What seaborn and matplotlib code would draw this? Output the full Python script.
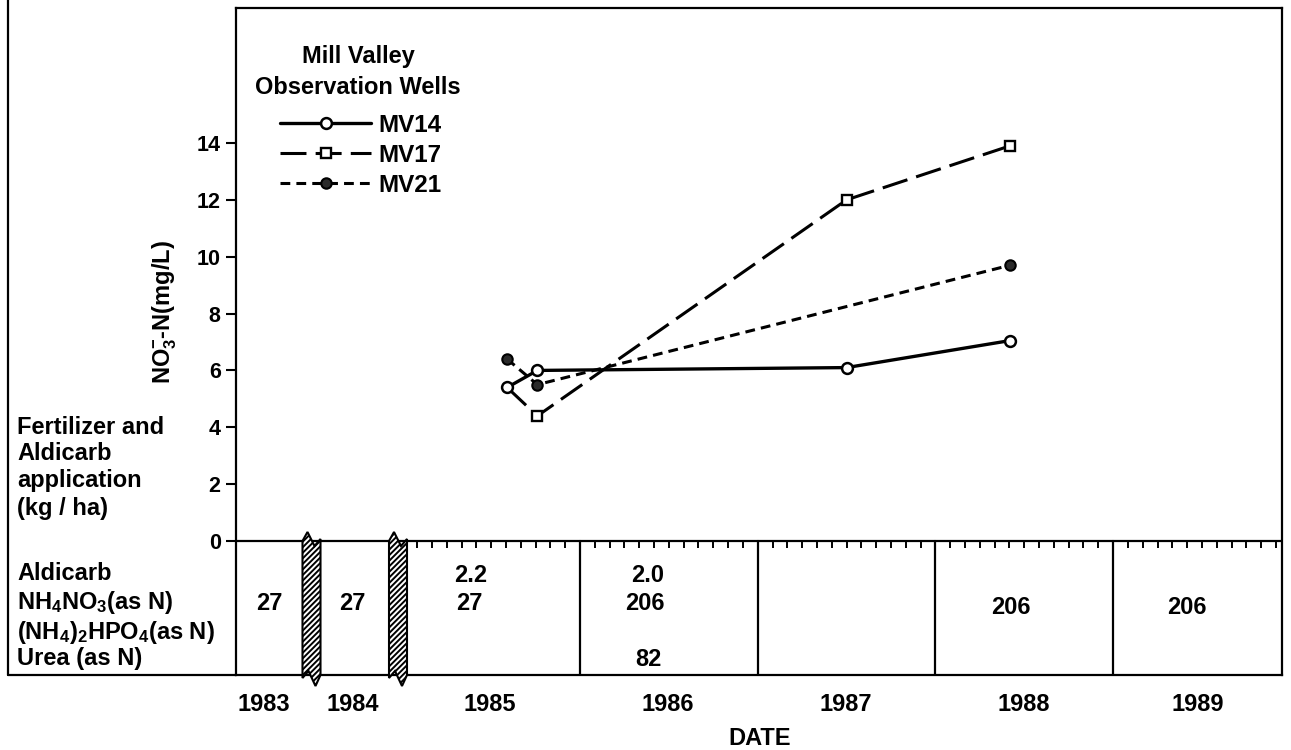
import numpy as np
import pandas as pd
import matplotlib
matplotlib.use("Agg")
import matplotlib.pyplot as plt
from matplotlib.patches import Polygon
from matplotlib.lines import Line2D
import seaborn as sns

# ---------------- data ----------------
wells = ["MV14", "MV17", "MV21"]
mv14_dates = [1985.59, 1985.76, 1987.50, 1988.42]
mv14_no3 = [5.4, 6.0, 6.1, 7.05]
mv17_dates = [1985.59, 1985.76, 1987.50, 1988.42]
mv17_no3 = [5.4, 4.4, 12.0, 13.9]
mv21_dates = [1985.59, 1985.76, 1988.42]
mv21_no3 = [6.4, 5.5, 9.7]

year_labels = ["1983", "1984", "1985", "1986", "1987", "1988", "1989"]
row_labels = ["Aldicarb", r"NH$_4$NO$_3$(as N)", r"(NH$_4$)$_2$HPO$_4$(as N)", "Urea (as N)"]
app_years = ["1983", "1984", "1985", "1985", "1986", "1986", "1986", "1988", "1989"]
app_rows = [1, 1, 0, 1, 0, 1, 3, 1, 1]
app_text = ["27", "27", "2.2", "27", "2.0", "206", "82", "206", "206"]

yticks = [0, 2, 4, 6, 8, 10, 12, 14]

# ---------------- style ----------------
sns.set_style("white")
FONT = ["Liberation Sans", "DejaVu Sans"]
plt.rcParams["font.family"] = FONT
plt.rcParams["font.weight"] = "bold"
plt.rcParams["axes.labelweight"] = "bold"
for k in ["text.color", "axes.labelcolor", "xtick.color", "ytick.color", "axes.edgecolor"]:
    plt.rcParams[k] = "black"
plt.rcParams["mathtext.fontset"] = "custom"
plt.rcParams["mathtext.rm"] = "Liberation Sans:bold"
plt.rcParams["mathtext.it"] = "Liberation Sans:bold:italic"
plt.rcParams["mathtext.bf"] = "Liberation Sans:bold"
plt.rcParams["hatch.linewidth"] = 1.4
FS = 17
TFS = 15.5

W, H = 1291, 750
fig = plt.figure(figsize=(W / 100, H / 100), dpi=100)
fig.patch.set_facecolor("white")

PX_LEFT, PX_RIGHT, PX_TOP, PX_BOT = 236, 1282, 8, 675
PX_Y0 = 541
PX_PER_UNIT = (541 - 143) / 14.0
PX_PER_YEAR = 177.7
PX_1986 = 580

def xd(px):
    return 1986 + (px - PX_1986) / PX_PER_YEAR

def yd(py):
    return (PX_Y0 - py) / PX_PER_UNIT

ax = fig.add_axes([PX_LEFT / W, 1 - PX_BOT / H, (PX_RIGHT - PX_LEFT) / W, (PX_BOT - PX_TOP) / H])
ax.set_xlim(xd(PX_LEFT), xd(PX_RIGHT))
ax.set_ylim(yd(PX_BOT), yd(PX_TOP))

for sp in ax.spines.values():
    sp.set_visible(True)
    sp.set_linewidth(1.6)
    sp.set_color("black")

# ---------------- series ----------------
sns.lineplot(x=mv17_dates, y=mv17_no3, ax=ax, color="black", lw=2.2,
             linestyle=(0, (8.5, 3.0)), marker="s", ms=7, mfc="white",
             mec="black", mew=1.7, label="MV17", zorder=3, markevery=[1, 2, 3])
sns.lineplot(x=mv21_dates, y=mv21_no3, ax=ax, color="black", lw=2.2,
             linestyle=(0, (3.2, 2.0)), marker="o", ms=7.5, mfc="#2a2a2a",
             mec="black", mew=1.5, label="MV21", zorder=4)
sns.lineplot(x=mv14_dates, y=mv14_no3, ax=ax, color="black", lw=2.4,
             linestyle="-", marker="o", ms=7.8, mfc="white",
             mec="black", mew=1.8, label="MV14", zorder=5)

ax.set_yticks(yticks)
ax.set_yticklabels([str(t) for t in yticks], fontsize=TFS)
ax.tick_params(axis="y", direction="out", length=7, width=1.5, pad=4, left=True)
ax.set_ylabel(r"NO$_3^{-}$-N(mg/L)", fontsize=FS, fontweight="bold")
ax.yaxis.set_label_coords((179 - PX_LEFT) / (PX_RIGHT - PX_LEFT), (PX_BOT - 312) / (PX_BOT - PX_TOP))

year_px = [264, 353, 490, 668, 846, 1024, 1198]
ax.set_xticks([xd(p) for p in year_px])
ax.set_xticklabels(year_labels, fontsize=FS)
ax.tick_params(axis="x", length=0, pad=13, bottom=True)
ax.set_xlabel("DATE", fontsize=FS, fontweight="bold")
ax.xaxis.set_label_coords((760 - PX_LEFT) / (PX_RIGHT - PX_LEFT), -(727 - PX_BOT) / (PX_BOT - PX_TOP))

# ---------------- table region ----------------
ax.axhline(0, color="black", lw=1.6, zorder=2)
for yr in [1986, 1987, 1988, 1989]:
    ax.plot([yr, yr], [yd(PX_BOT), 0], color="black", lw=1.6, zorder=2)
months = [y + m / 12 for y in range(1985, 1990) for m in range(1, 12)]
ax.vlines(months, -7 / PX_PER_UNIT, 0, color="black", lw=1.4, zorder=2)

def break_patch(cx_px):
    top = [(-9, 541), (-4, 532), (3, 546), (9, 539)]
    bot = [(9, 675), (4, 686), (-3, 671), (-9, 678)]
    pts = [(xd(cx_px + dx), yd(py)) for dx, py in top + bot]
    return Polygon(pts, closed=True, facecolor="white", edgecolor="black",
                   hatch="//////", lw=1.5, zorder=6, clip_on=False)

for cx in [311.5, 398]:
    ax.add_patch(break_patch(cx))

col_px = {"1983": 269, "1984": 352, "1985": 471, "1986": 648, "1988": 1011, "1989": 1187}
row_py = [575, 604, 632, 660]
for yr, r, t in zip(app_years, app_rows, app_text):
    px = col_px[yr]
    if yr == "1986" and t == "206":
        px = 645
    if yr == "1985" and t == "27":
        px = 469
    ax.text(xd(px), yd(row_py[r] + (3 if yr in ("1988", "1989") else 0)), t,
            ha="center", va="center", fontsize=FS, zorder=7)

label_py = [573, 603, 632, 659]
for lab, py in zip(row_labels, label_py):
    fig.text(17 / W, 1 - py / H, lab, ha="left", va="center", fontsize=FS)

for i, line in enumerate(["Fertilizer and", "Aldicarb", "application", "(kg / ha)"]):
    fig.text(17 / W, 1 - (427 + 27 * i) / H, line, ha="left", va="center", fontsize=FS)

fig.add_artist(Line2D([8 / W, 8 / W], [1 - 0 / H, 1 - PX_BOT / H], color="black", lw=1.6))
fig.add_artist(Line2D([8 / W, PX_LEFT / W], [1 - PX_BOT / H, 1 - PX_BOT / H], color="black", lw=1.6))

# ---------------- legend ----------------
fig.text(358 / W, 1 - 57 / H, "Mill Valley", ha="center", va="center", fontsize=FS)
fig.text(358 / W, 1 - 87 / H, "Observation Wells", ha="center", va="center", fontsize=FS)
handles, labels = ax.get_legend_handles_labels()
order = [labels.index(w) for w in wells]
leg = ax.legend([handles[i] for i in order], [labels[i] for i in order],
                frameon=False, loc="upper left", bbox_to_anchor=(280 / W, 1 - 114 / H),
                bbox_transform=fig.transFigure, borderpad=0, borderaxespad=0,
                fontsize=FS + 0.5, handlelength=3.75, handletextpad=0.28,
                labelspacing=0.28, numpoints=1)
for lh in leg.legend_handles:
    lh.set_markevery([1])

fig.savefig("out.png", dpi=100, facecolor="white")
